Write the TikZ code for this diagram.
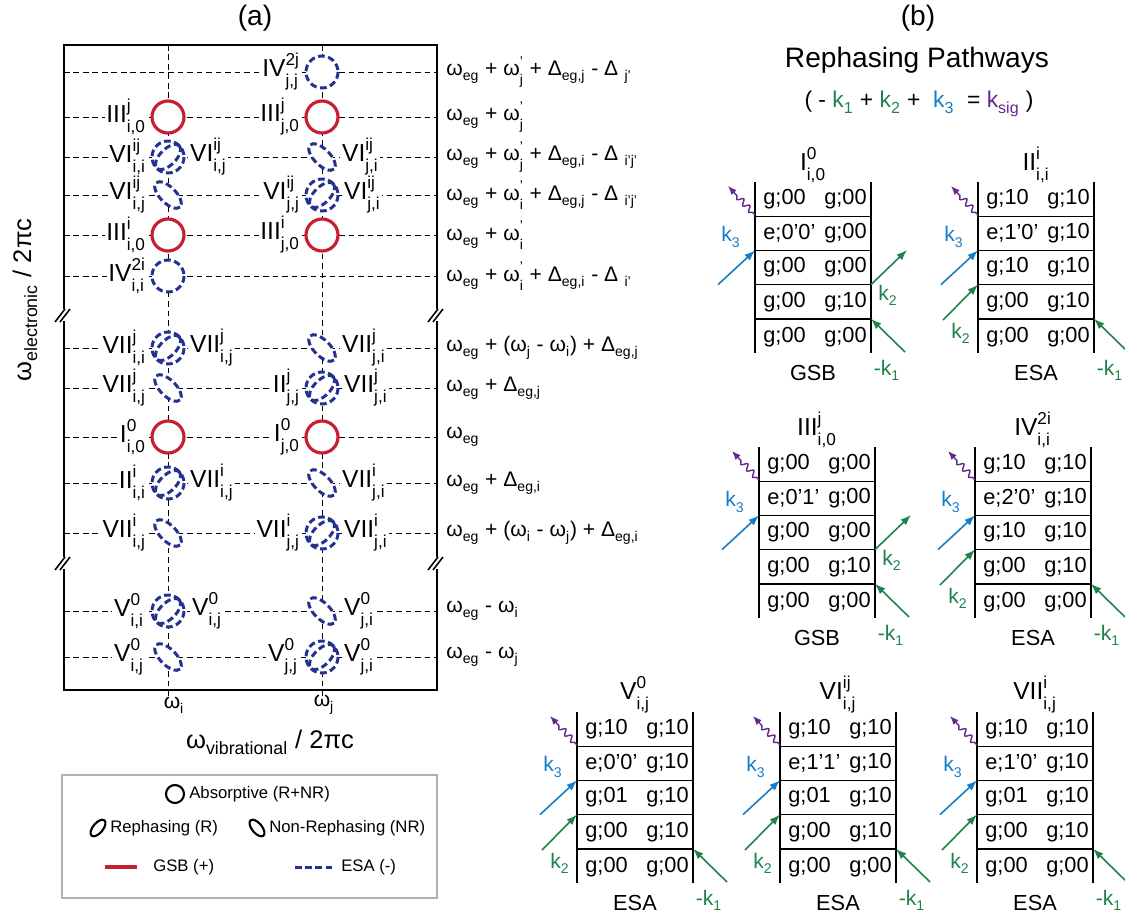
\documentclass[tikz,border=0pt]{standalone}
\usepackage{amsmath}
\usepackage{fontspec}
\setmainfont{Liberation Sans}
\usepackage{tikz}
\usetikzlibrary{arrows.meta, positioning, decorations.pathmorphing}

\definecolor{gsbred}{RGB}{200,30,50}
\definecolor{esablue}{RGB}{35,50,145}
\definecolor{kgreen}{RGB}{30,130,75}
\definecolor{kblue}{RGB}{20,125,200}
\definecolor{kpurple}{RGB}{100,40,140}

\newcommand{\supsub}[3]{#1$^{\text{\raisebox{1pt}{#2}}}_{\text{\raisebox{-2.2pt}{#3}}}$}
\newcommand{\subx}[2]{#1$_{\text{\raisebox{-1.2pt}{#2}}}$}

\newcommand{\ladder}[8]{%
  \draw[ladline] (#2,#3) -- (#2,{#3+171});
  \draw[ladline] ({#2+116},#3) -- ({#2+116},{#3+171});
  \foreach \r in {1,2,3,4}
    \draw[ladline] (#2,{#3+34.2*\r}) -- ({#2+116},{#3+34.2*\r});
  \node[ladtxt, anchor=west] (#1-1l) at ({#2+8},{#3+17.1}) {#5};
  \node[ladtxt, anchor=east] (#1-1r) at ({#2+112},{#3+17.1}) {#5};
  \node[ladtxt, anchor=west] (#1-2l) at ({#2+8},{#3+51.3}) {e;#7};
  \node[ladtxt, anchor=east] (#1-2r) at ({#2+112},{#3+51.3}) {#5};
  \node[ladtxt, anchor=west] (#1-3l) at ({#2+8},{#3+85.5}) {#6};
  \node[ladtxt, anchor=east] (#1-3r) at ({#2+112},{#3+85.5}) {#5};
  \node[ladtxt, anchor=west] (#1-4l) at ({#2+8},{#3+119.7}) {g;00};
  \node[ladtxt, anchor=east] (#1-4r) at ({#2+112},{#3+119.7}) {g;10};
  \node[ladtxt, anchor=west] (#1-5l) at ({#2+8},{#3+155}) {g;00};
  \node[ladtxt, anchor=east] (#1-5r) at ({#2+112},{#3+155}) {g;00};
  \node[ladtitle] (#1-t) at ({#2+58},{#3-17}) {#4};
  \node[ladtxt] (#1-kind) at ({#2+58},{#3+191}) {#8};
  \coordinate (#1-s) at (#2,{#3+33});
  \coordinate (#1-so) at ({#2-27},{#3+4});
  \coordinate (#1-k3) at (#2,{#3+68.4});
  \coordinate (#1-k3o) at ({#2-37},{#3+102.6});
  \coordinate (#1-k1) at ({#2+116},{#3+136.8});
  \coordinate (#1-k1o) at ({#2+150},{#3+170});
  \coordinate (#1-k2l) at (#2,{#3+102.6});
  \coordinate (#1-k2lo) at ({#2-35},{#3+138});
  \coordinate (#1-k2lt) at ({#2-17},{#3+151});
  \coordinate (#1-k2r) at ({#2+116},{#3+102.6});
  \coordinate (#1-k2ro) at ({#2+152},{#3+68});
  \coordinate (#1-k2rt) at ({#2+133},{#3+113});
  \draw[sigarrow] (#1-s) -- (#1-so);
  \draw[karrow, kblue] (#1-k3o) -- (#1-k3);
  \draw[karrow, kgreen] (#1-k1o) -- (#1-k1);
  \node[klab, kblue] (#1-k3t) at ({#2-24},{#3+55}) {\subx{k}{3}};
  \node[klab, kgreen] (#1-k1t) at ({#2+132},{#3+188}) {-\subx{k}{1}};
}

\begin{document}
\begin{tikzpicture}[
    x=0.02cm, y=-0.02cm,
    frame/.style={line width=0.9pt},
    grid/.style={line width=0.55pt, dash pattern=on 3.2pt off 2.2pt},
    gsb/.style={draw=gsbred, line width=1.8pt},
    esa/.style={draw=esablue, line width=1.7pt, dash pattern=on 3.8pt off 2pt},
    pk/.style={font=\fontsize{14}{14}\selectfont, fill=white, inner sep=1pt},
    freq/.style={font=\fontsize{12}{12}\selectfont, anchor=west, inner sep=0pt},
    ladline/.style={line width=0.8pt},
    ladtxt/.style={font=\fontsize{12.4}{13}\selectfont, inner sep=0pt},
    ladtitle/.style={font=\fontsize{14}{14}\selectfont, inner sep=0pt},
    karrow/.style={line width=0.9pt, -{Latex[length=6pt, width=4.5pt]}},
    sigarrow/.style={kpurple, line width=0.8pt, decorate, decoration={snake, amplitude=1.6pt, segment length=5pt, pre length=2pt, post length=5pt}, -{Latex[length=5pt, width=4pt]}},
    klab/.style={font=\fontsize{12}{12}\selectfont, inner sep=0pt},
    legbox/.style={draw=gray!60, line width=1.6pt},
    legtxt/.style={font=\fontsize{9.5}{10}\selectfont, anchor=west, inner sep=0pt},
    head/.style={font=\fontsize{16}{16}\selectfont, inner sep=0pt},
    axlab/.style={font=\fontsize{14.5}{15}\selectfont, inner sep=0pt}
]
\useasboundingbox (0,0) rectangle (1125,920);

\node[head] (tita) at (255,18) {(a)};
\node[head] (titb) at (918,18) {(b)};
\node[head] (rph) at (917,60) {Rephasing Pathways};
\node[head, font=\fontsize{13}{13}\selectfont] (ksum) at (919,104) {( - \textcolor{kgreen}{\subx{k}{1}} + \textcolor{kgreen}{\subx{k}{2}} + ~\textcolor{kblue}{\subx{k}{3}} ~= \textcolor{kpurple}{\subx{k}{sig}} )};

\foreach \y in {72,117,157,195,235,276,348,388,437,483,533,611,657}
  \draw[grid] (64,\y) -- (437,\y);
\draw[grid] (168,45) -- (168,697);
\draw[grid] (322,45) -- (322,697);

\draw[frame] (64,309) -- (64,45) -- (437,45) -- (437,309);
\draw[frame] (64,321) -- (64,557);
\draw[frame] (437,321) -- (437,557);
\draw[frame] (64,569) -- (64,690) -- (437,690) -- (437,569);
\foreach \x in {64,437}
  \foreach \y in {315,563} {
    \draw[frame] (\x-9,\y+7) -- (\x+1,\y-6);
    \draw[frame] (\x-4,\y+7) -- (\x+6,\y-6);
  }

\foreach \x/\y in {168/117,322/117,168/235,322/235,168/437,322/437}
  \draw[gsb, fill=white] (\x,\y) circle[radius=16];
\foreach \x/\y in {322/72,168/276}
  \draw[esa, fill=white] (\x,\y) circle[radius=16];
\foreach \x/\y in {168/157,322/195,168/348,322/388,168/483,322/533,168/611,322/657} {
  \draw[esa, fill=white] (\x,\y) circle[radius=16];
  \draw[esa, rotate around={45:(\x,\y)}] (\x,\y) ellipse[x radius=16, y radius=8];
}
\foreach \x/\y in {322/157,168/195,322/348,168/388,322/483,168/533,322/611,168/657}
  \draw[esa, fill=white, rotate around={-45:(\x,\y)}] (\x,\y) ellipse[x radius=17, y radius=8];

\node[pk, anchor=east] (r1j) at (302,72) {\supsub{IV}{2j}{j,j}};
\node[pk, anchor=east] (r2i) at (148,117) {\supsub{III}{j}{i,0}};
\node[pk, anchor=east] (r2j) at (302,117) {\supsub{III}{j}{j,0}};
\node[pk, anchor=east] (r3i) at (148,157) {\supsub{VI}{ij}{i,i}};
\node[pk, anchor=west] (r3ir) at (188,157) {\supsub{VI}{ij}{i,j}};
\node[pk, anchor=west] (r3jr) at (340,157) {\supsub{VI}{ij}{j,i}};
\node[pk, anchor=east] (r4i) at (148,195) {\supsub{VI}{ij}{i,j}};
\node[pk, anchor=east] (r4j) at (302,195) {\supsub{VI}{ij}{j,j}};
\node[pk, anchor=west] (r4jr) at (342,195) {\supsub{VI}{ij}{j,i}};
\node[pk, anchor=east] (r5i) at (148,235) {\supsub{III}{i}{i,0}};
\node[pk, anchor=east] (r5j) at (302,235) {\supsub{III}{i}{j,0}};
\node[pk, anchor=east] (r6i) at (148,276) {\supsub{IV}{2i}{i,i}};
\node[pk, anchor=east] (r7i) at (148,348) {\supsub{VII}{j}{i,i}};
\node[pk, anchor=west] (r7ir) at (188,348) {\supsub{VII}{j}{i,j}};
\node[pk, anchor=west] (r7jr) at (340,348) {\supsub{VII}{j}{j,i}};
\node[pk, anchor=east] (r8i) at (148,388) {\supsub{VII}{j}{i,j}};
\node[pk, anchor=east] (r8j) at (302,388) {\supsub{II}{j}{j,j}};
\node[pk, anchor=west] (r8jr) at (342,388) {\supsub{VII}{j}{j,i}};
\node[pk, anchor=east] (r9i) at (148,437) {\supsub{I}{0}{i,0}};
\node[pk, anchor=east] (r9j) at (302,437) {\supsub{I}{0}{j,0}};
\node[pk, anchor=east] (r10i) at (148,483) {\supsub{II}{i}{i,i}};
\node[pk, anchor=west] (r10ir) at (188,483) {\supsub{VII}{i}{i,j}};
\node[pk, anchor=west] (r10jr) at (340,483) {\supsub{VII}{i}{j,i}};
\node[pk, anchor=east] (r11i) at (148,533) {\supsub{VII}{i}{i,j}};
\node[pk, anchor=east] (r11j) at (302,533) {\supsub{VII}{i}{j,j}};
\node[pk, anchor=west] (r11jr) at (342,533) {\supsub{VII}{i}{j,i}};
\node[pk, anchor=east] (r12i) at (146,611) {\supsub{V}{0}{i,i}};
\node[pk, anchor=west] (r12ir) at (190,611) {\supsub{V}{0}{i,j}};
\node[pk, anchor=west] (r12jr) at (342,611) {\supsub{V}{0}{j,i}};
\node[pk, anchor=east] (r13i) at (146,657) {\supsub{V}{0}{i,j}};
\node[pk, anchor=east] (r13j) at (300,657) {\supsub{V}{0}{j,j}};
\node[pk, anchor=west] (r13jr) at (342,657) {\supsub{V}{0}{j,i}};

\node[freq] (f1) at (446,72) {\subx{ω}{eg} + \supsub{ω}{’}{j} + \subx{Δ}{eg,j} - \subx{Δ}{\, j’}};
\node[freq] (f2) at (446,117) {\subx{ω}{eg} + \supsub{ω}{’}{j}};
\node[freq] (f3) at (446,157) {\subx{ω}{eg} + \supsub{ω}{’}{j} + \subx{Δ}{eg,i} - \subx{Δ}{\, i’j’}};
\node[freq] (f4) at (446,195) {\subx{ω}{eg} + \supsub{ω}{’}{i} + \subx{Δ}{eg,j} - \subx{Δ}{\, i’j’}};
\node[freq] (f5) at (446,235) {\subx{ω}{eg} + \supsub{ω}{’}{i}};
\node[freq] (f6) at (446,276) {\subx{ω}{eg} + \supsub{ω}{’}{i} + \subx{Δ}{eg,i} - \subx{Δ}{\, i’}};
\node[freq] (f7) at (446,348) {\subx{ω}{eg} + (\subx{ω}{j} - \subx{ω}{i}) + \subx{Δ}{eg,j}};
\node[freq] (f8) at (446,388) {\subx{ω}{eg} + \subx{Δ}{eg,j}};
\node[freq] (f9) at (446,437) {\subx{ω}{eg}};
\node[freq] (f10) at (446,483) {\subx{ω}{eg} + \subx{Δ}{eg,i}};
\node[freq] (f11) at (446,533) {\subx{ω}{eg} + (\subx{ω}{i} - \subx{ω}{j}) + \subx{Δ}{eg,i}};
\node[freq] (f12) at (446,611) {\subx{ω}{eg} - \subx{ω}{i}};
\node[freq] (f13) at (446,657) {\subx{ω}{eg} - \subx{ω}{j}};

\node[klab] (wi) at (174,705) {\subx{ω}{i}};
\node[klab] (wj) at (324,705) {\subx{ω}{j}};
\node[axlab] (xlab) at (270,742) {\subx{ω}{vibrational} / 2πc};
\node[axlab, rotate=90] (ylab) at (25,300) {\subx{ω}{electronic} / 2πc};

\draw[legbox] (62,775) rectangle (437,898);
\draw[line width=1.2pt] (175,794) circle[radius=9];
\node[legtxt] (lgabs) at (189,794) {Absorptive (R+NR)};
\draw[line width=1.2pt, rotate around={50:(98,828)}] (98,828) ellipse[x radius=10, y radius=5];
\node[legtxt] (lgr) at (110,828) {Rephasing (R)};
\draw[line width=1.2pt, rotate around={-50:(257,828)}] (257,828) ellipse[x radius=10, y radius=5];
\node[legtxt] (lgnr) at (269,828) {Non-Rephasing (NR)};
\draw[gsb] (105,867) -- (137,867);
\node[legtxt] (lggsb) at (153,867) {GSB (+)};
\draw[esa] (295,867) -- (333,867);
\node[legtxt] (lgesa) at (341,867) {ESA (-)};

\ladder{pI}{755}{182}{\supsub{I}{0}{i,0}}{g;00}{g;00}{0’0’}{GSB}
\ladder{pII}{978}{182}{\supsub{II}{i}{i,i}}{g;10}{g;10}{1’0’}{ESA}
\ladder{pIII}{759}{447}{\supsub{III}{j}{i,0}}{g;00}{g;00}{0’1’}{GSB}
\ladder{pIV}{975}{447}{\supsub{IV}{2i}{i,i}}{g;10}{g;10}{2’0’}{ESA}
\ladder{pV}{577}{712}{\supsub{V}{0}{i,j}}{g;10}{g;01}{0’0’}{ESA}
\ladder{pVI}{780}{712}{\supsub{VI}{ij}{i,j}}{g;10}{g;01}{1’1’}{ESA}
\ladder{pVII}{977}{712}{\supsub{VII}{i}{i,j}}{g;10}{g;01}{1’0’}{ESA}

\draw[karrow, kgreen] (pI-k2r) -- (pI-k2ro);
\node[klab, kgreen] (pI-k2) at (pI-k2rt) {\subx{k}{2}};
\draw[karrow, kgreen] (pIII-k2r) -- (pIII-k2ro);
\node[klab, kgreen] (pIII-k2) at (pIII-k2rt) {\subx{k}{2}};
\draw[karrow, kgreen] (pII-k2lo) -- (pII-k2l);
\node[klab, kgreen] (pII-k2) at (pII-k2lt) {\subx{k}{2}};
\draw[karrow, kgreen] (pIV-k2lo) -- (pIV-k2l);
\node[klab, kgreen] (pIV-k2) at (pIV-k2lt) {\subx{k}{2}};
\draw[karrow, kgreen] (pV-k2lo) -- (pV-k2l);
\node[klab, kgreen] (pV-k2) at (pV-k2lt) {\subx{k}{2}};
\draw[karrow, kgreen] (pVI-k2lo) -- (pVI-k2l);
\node[klab, kgreen] (pVI-k2) at (pVI-k2lt) {\subx{k}{2}};
\draw[karrow, kgreen] (pVII-k2lo) -- (pVII-k2l);
\node[klab, kgreen] (pVII-k2) at (pVII-k2lt) {\subx{k}{2}};
\end{tikzpicture}
\end{document}
